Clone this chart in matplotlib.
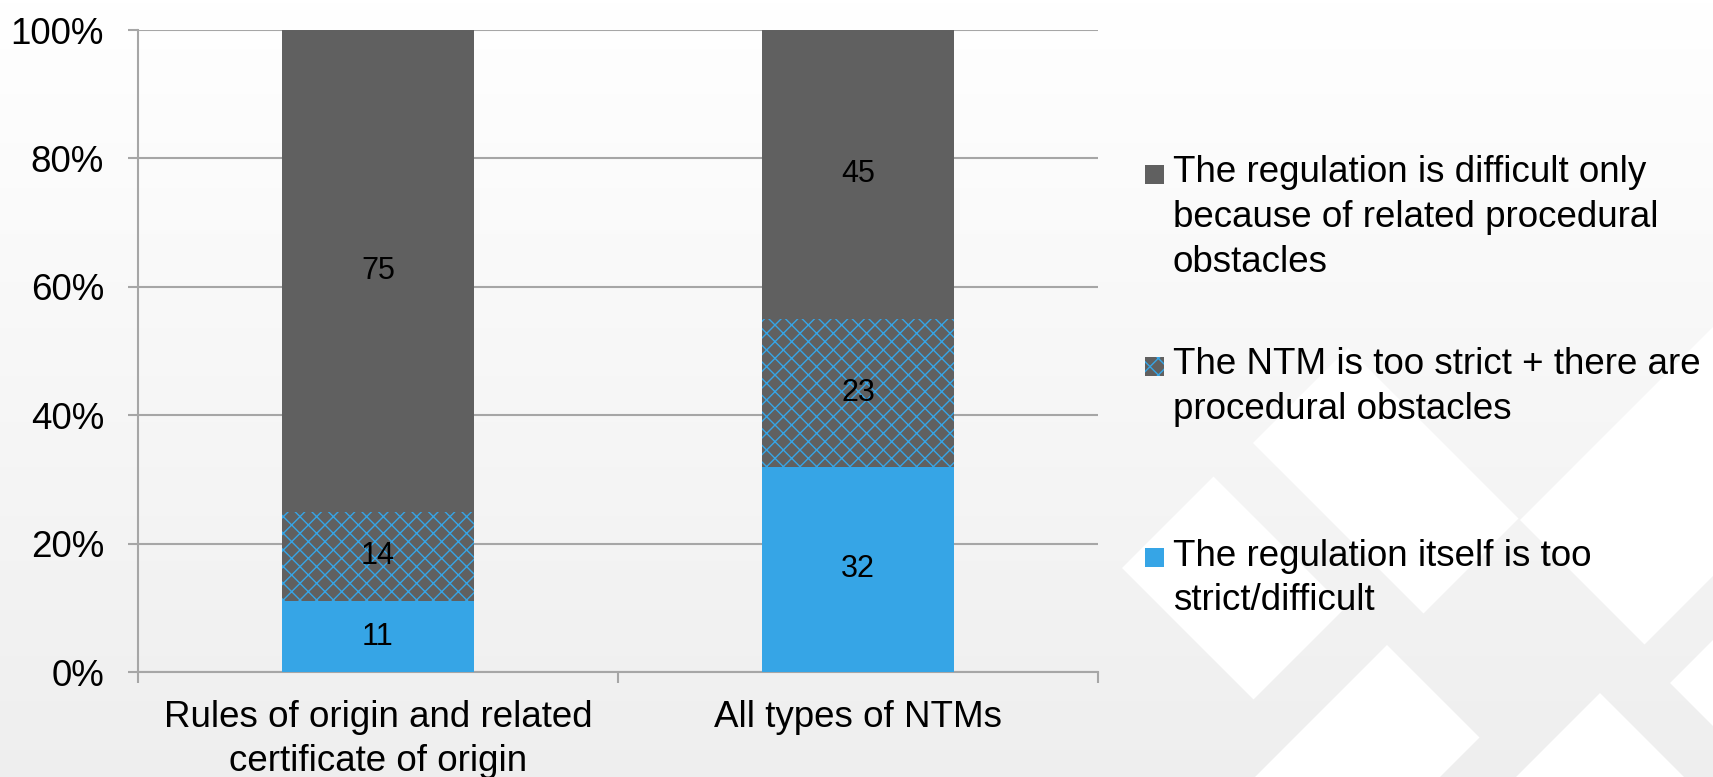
import matplotlib.pyplot as plt
import numpy as np
from matplotlib.patches import Polygon, Rectangle

plt.rcParams['font.family'] = ['Liberation Sans', 'DejaVu Sans']
plt.rcParams['hatch.linewidth'] = 1.0

categories = ['Rules of origin and related\ncertificate of origin', 'All types of NTMs']
too_strict = [11, 32]
strict_and_procedural = [14, 23]
only_procedural = [75, 45]
series_labels = ['The regulation is difficult only\nbecause of related procedural\nobstacles',
                 'The NTM is too strict + there are\nprocedural obstacles',
                 'The regulation itself is too\nstrict/difficult']
yticks = [0, 20, 40, 60, 80, 100]

blue = '#36a5e6'
gray = '#606060'
grid_col = '#a6a6a6'
fs = 26.5

W, H = 1713, 777
fig = plt.figure(figsize=(W / 100, H / 100), dpi=100)

# background: soft gradient with white diamonds (u = x + y, v = x - y)
bg = fig.add_axes([0, 0, 1, 1], zorder=-10)
grad = np.linspace(1.0, 0.935, 256).reshape(-1, 1)
bg.imshow(np.dstack([grad, grad, grad]), extent=[0, W, H, 0], aspect='auto')
cells = [(1690, 1953, 554, 737), (2032, 2217, 250, 742), (1696, 2037, 810, 1000),
         (2040, 2289, 1000, 1500), (2293, 2700, 450, 907), (2353, 2700, 987, 1500)]
for u0, u1, v0, v1 in cells:
    pts = [((u + v) / 2, (u - v) / 2) for u, v in [(u0, v0), (u0, v1), (u1, v1), (u1, v0)]]
    bg.add_patch(Polygon(pts, closed=True, facecolor='white', edgecolor='none'))
bg.set_xlim(0, W)
bg.set_ylim(H, 0)
bg.axis('off')

ax = fig.add_axes([138 / W, 1 - 672 / H, (1098 - 138) / W, (672 - 30) / H])
ax.set_facecolor('none')

x = np.arange(len(categories))
width = 0.4
b1 = ax.bar(x, too_strict, width, color=blue, linewidth=0, zorder=3)
b2 = ax.bar(x, strict_and_procedural, width, bottom=too_strict, color=gray,
            edgecolor=blue, hatch='xx', linewidth=0, zorder=3)
bottom2 = np.array(too_strict) + np.array(strict_and_procedural)
b3 = ax.bar(x, only_procedural, width, bottom=bottom2, color=gray, linewidth=0, zorder=3)

for bars in (b1, b2, b3):
    ax.bar_label(bars, labels=[str(int(round(r.get_height()))) for r in bars],
                 label_type='center', fontsize=22, color='black', zorder=4)

ax.set_xlim(-0.5, len(categories) - 0.5)
ax.set_ylim(0, 100)
ax.set_yticks(yticks)
ax.set_yticklabels([f'{t}%' for t in yticks], fontsize=fs)
ax.set_xticks(x)
ax.set_xticklabels(categories, fontsize=fs, linespacing=1.36)
ax.set_xticks(np.arange(len(categories) + 1) - 0.5, minor=True)
ax.tick_params(axis='x', which='major', length=0, pad=20)
ax.tick_params(axis='x', which='minor', length=8, color=grid_col, width=1.5)
ax.tick_params(axis='y', length=7, color=grid_col, width=1.5, pad=17.5)

ax.yaxis.grid(True, color=grid_col, linewidth=1.5, zorder=0)
ax.set_axisbelow(True)
for s in ('top', 'right'):
    ax.spines[s].set_visible(False)
for s in ('left', 'bottom'):
    ax.spines[s].set_color(grid_col)
    ax.spines[s].set_linewidth(1.5)

# legend, drawn like the spreadsheet one: square beside the first line of each label
lg = fig.add_axes([0, 0, 1, 1], zorder=5)
lg.set_xlim(0, W)
lg.set_ylim(H, 0)
lg.axis('off')
legend_styles = [dict(facecolor=gray),
                 dict(facecolor=gray, edgecolor=blue, hatch='xx'),
                 dict(facecolor=blue)]
for i, (label, style) in enumerate(zip(series_labels, legend_styles)):
    base = 187 + i * 191.5
    lg.add_patch(Rectangle((1145, base - 22), 19, 19, linewidth=0, **style))
    lg.text(1173, base - 31.5, label, fontsize=fs, va='top', ha='left',
            linespacing=1.36, clip_on=False)

fig.savefig('out.png', dpi=100)
